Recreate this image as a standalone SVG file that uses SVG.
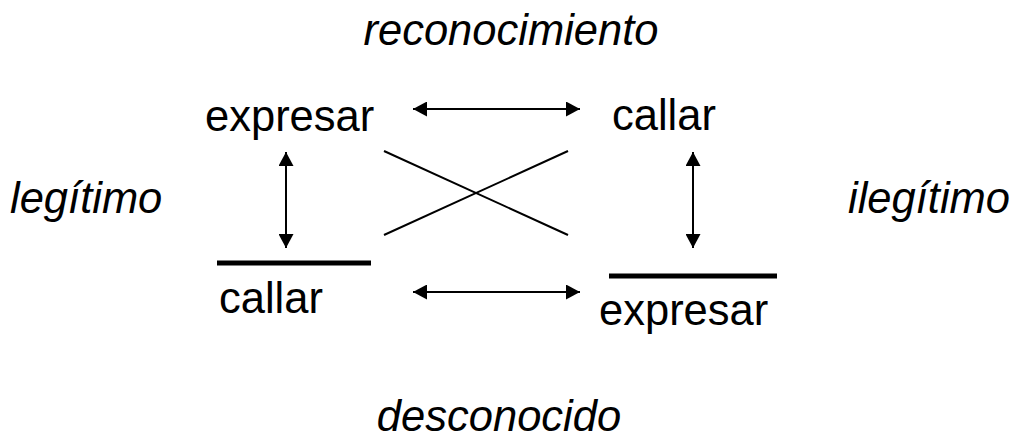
<svg xmlns="http://www.w3.org/2000/svg" width="1019" height="439" viewBox="0 0 1019 439">
<style>
text{font-family:"Liberation Sans",Arial,sans-serif;font-size:43.5px;fill:#000}
.i{font-style:italic}
.c{stroke:#000;stroke-width:2;fill:none}
.bar{stroke:#000;stroke-width:5}
</style>
<defs>
<marker id="ah" viewBox="0 0 10 10" refX="10" refY="5" markerWidth="14" markerHeight="15" markerUnits="userSpaceOnUse" orient="auto-start-reverse" preserveAspectRatio="none">
<path d="M0,0L10,5L0,10z" fill="#000"/>
</marker>
</defs>
<rect width="1019" height="439" fill="#fff"/>
<g id="label-reconocimiento"><text class="i" x="511" y="45" text-anchor="middle">reconocimiento</text></g>
<g id="label-legitimo"><text class="i" x="10" y="213">legítimo</text></g>
<g id="label-ilegitimo"><text class="i" x="1010" y="213" text-anchor="end">ilegítimo</text></g>
<g id="label-desconocido"><text class="i" x="499" y="431" text-anchor="middle">desconocido</text></g>
<g id="node-expresar-top"><text x="205" y="131">expresar</text></g>
<g id="node-callar-top"><text x="612" y="130">callar</text></g>
<g id="node-callar-bottom"><line class="bar" x1="217" y1="263" x2="371" y2="263"/><text x="219" y="313">callar</text></g>
<g id="node-expresar-bottom"><line class="bar" x1="609" y1="276" x2="777" y2="276"/><text x="599" y="325">expresar</text></g>
<g id="connectors">
<line class="c" x1="413" y1="109" x2="580" y2="109" marker-start="url(#ah)" marker-end="url(#ah)"/>
<line class="c" x1="413" y1="292" x2="580" y2="292" marker-start="url(#ah)" marker-end="url(#ah)"/>
<line class="c" x1="286" y1="152" x2="286" y2="248" marker-start="url(#ah)" marker-end="url(#ah)"/>
<line class="c" x1="693" y1="152" x2="693" y2="248" marker-start="url(#ah)" marker-end="url(#ah)"/>
<line class="c" x1="384" y1="151" x2="568" y2="235"/>
<line class="c" x1="384" y1="235" x2="568" y2="151"/>
</g>
</svg>
